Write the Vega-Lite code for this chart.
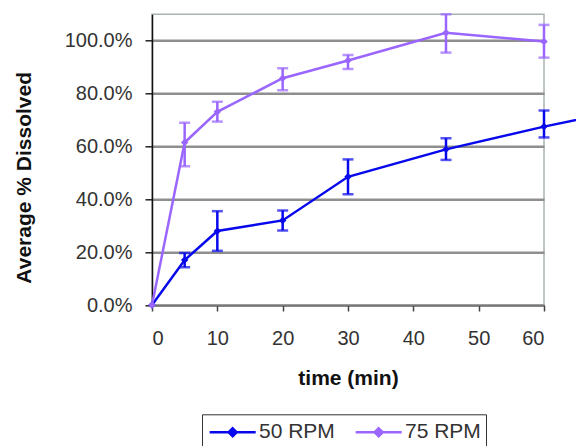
{
  "$schema": "https://vega.github.io/schema/vega-lite/v6.json",
  "autosize": {"type": "none"},
  "padding": {"left": 152, "top": 14.3, "right": 32, "bottom": 141},
  "width": 392,
  "height": 290.7,
  "background": "white",
  "config": {
    "font": "Liberation Sans",
    "view": {"stroke": "#a9b4b4", "strokeWidth": 1.5},
    "axis": {"labelFont": "Liberation Sans", "titleFont": "Liberation Sans", "labelColor": "#333", "titleColor": "#111"}
  },
  "data": {
    "values": [
      {"series": "50 RPM", "t": 0, "v": 0.0},
      {"series": "50 RPM", "t": 5, "v": 0.17, "lo": 0.143, "hi": 0.197},
      {"series": "50 RPM", "t": 10, "v": 0.28, "lo": 0.205, "hi": 0.355},
      {"series": "50 RPM", "t": 20, "v": 0.32, "lo": 0.282, "hi": 0.358},
      {"series": "50 RPM", "t": 30, "v": 0.485, "lo": 0.419, "hi": 0.551},
      {"series": "50 RPM", "t": 45, "v": 0.589, "lo": 0.549, "hi": 0.631},
      {"series": "50 RPM", "t": 60, "v": 0.675, "lo": 0.634, "hi": 0.736},
      {"series": "50 RPM", "t": 90, "v": 0.83},
      {"series": "75 RPM", "t": 0, "v": 0.0},
      {"series": "75 RPM", "t": 5, "v": 0.615, "lo": 0.525, "hi": 0.69},
      {"series": "75 RPM", "t": 10, "v": 0.731, "lo": 0.694, "hi": 0.769},
      {"series": "75 RPM", "t": 20, "v": 0.858, "lo": 0.813, "hi": 0.896},
      {"series": "75 RPM", "t": 30, "v": 0.925, "lo": 0.893, "hi": 0.946},
      {"series": "75 RPM", "t": 45, "v": 1.03, "lo": 0.955, "hi": 1.1},
      {"series": "75 RPM", "t": 60, "v": 0.997, "lo": 0.936, "hi": 1.06}
    ]
  },
  "encoding": {
    "x": {
      "field": "t", "type": "quantitative",
      "scale": {"domain": [0, 60], "nice": false, "zero": false},
      "axis": {
        "title": "time (min)", "values": [0, 10, 20, 30, 40, 50, 60],
        "grid": false, "domainColor": "#777", "domainWidth": 1.5,
        "tickColor": "#444", "tickWidth": 1.5, "tickSize": 6,
        "labelFontSize": 20, "labelPadding": 17,
        "titleFontSize": 21, "titleFontWeight": "bold", "titlePadding": 19
      }
    },
    "y": {
      "field": "v", "type": "quantitative",
      "scale": {"domain": [0, 1.1], "nice": false},
      "axis": {
        "title": "Average % Dissolved", "format": ".1%",
        "values": [0, 0.2, 0.4, 0.6, 0.8, 1.0],
        "grid": true, "gridColor": "#8f8f8f", "gridWidth": 2.5,
        "domainColor": "#111", "domainWidth": 1.5,
        "tickColor": "#222", "tickWidth": 1.5, "tickSize": 7,
        "labelFontSize": 20, "labelPadding": 13,
        "titleFontSize": 21, "titleFontWeight": "bold",
        "titleX": -128, "titleY": 163, "titleAngle": -90,
        "titleAlign": "center", "titleBaseline": "middle"
      }
    },
    "color": {
      "field": "series", "type": "nominal",
      "scale": {"domain": ["50 RPM", "75 RPM"], "range": ["#0808ec", "#9a66ff"]},
      "legend": {
        "title": null, "orient": "none", "direction": "horizontal",
        "legendX": 50, "legendY": 400,
        "strokeColor": "#333", "padding": 5,
        "symbolType": "M-0.9,0L3.1,0M1.1,-0.35L1.45,0L1.1,0.35L0.75,0Z",
        "symbolSize": 530, "symbolStrokeWidth": 2.5,
        "labelFontSize": 21, "labelColor": "#333", "labelOffset": 26,
        "columnPadding": 15
      }
    }
  },
  "layer": [
    {
      "mark": {"type": "line", "strokeWidth": 2.5, "clip": false}
    },
    {
      "transform": [{"filter": "datum.t <= 60"}],
      "mark": {"type": "point", "shape": "diamond", "filled": true, "size": 55, "opacity": 1}
    },
    {
      "transform": [{"filter": "isValid(datum.lo)"}],
      "mark": {"type": "errorbar", "ticks": {"size": 11, "thickness": 2.5}, "rule": {"strokeWidth": 2.5}},
      "encoding": {
        "y": {"field": "lo", "type": "quantitative"},
        "y2": {"field": "hi"}
      }
    }
  ]
}
